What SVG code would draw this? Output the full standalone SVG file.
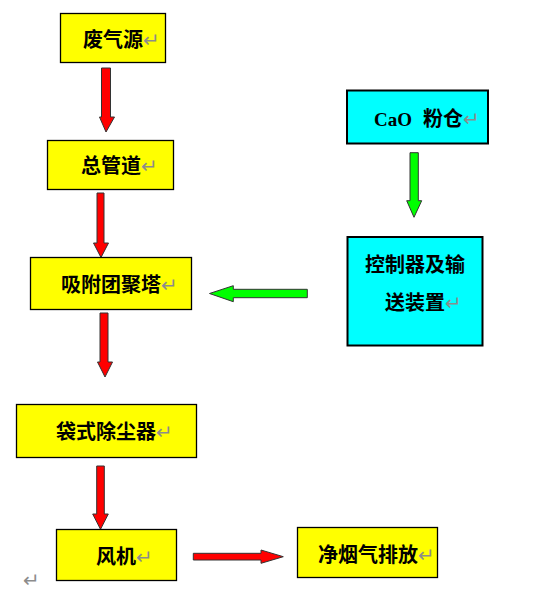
<svg xmlns="http://www.w3.org/2000/svg" width="542" height="594" viewBox="0 0 542 594">
<style>
.y{fill:#ffff00;stroke:#000;stroke-width:1.3}
.c{fill:#00ffff;stroke:#000;stroke-width:2}
.t{font-family:"Noto Sans CJK SC","Liberation Serif",sans-serif;font-size:20px;font-weight:bold;fill:#000}
.r{fill:#ff0000;stroke:#333;stroke-width:1}
.g{fill:#00ff00;stroke:#333;stroke-width:1}
.p{font-family:"DejaVu Sans",sans-serif;font-size:20px;fill:#8c8c8c;font-weight:normal}
</style>
<rect width="542" height="594" fill="#fff"/>
<g id="connectors">
<polygon class="r" points="101.5,68 110.5,68 110.5,117 114.5,117 106,132 99.5,117 101.5,117"/>
<polygon class="r" points="97,193 104,193 104,243 108.5,243 101,257.5 93.5,243 97,243"/>
<polygon class="r" points="100,313 108,313 108,362 112.5,362 105,377 97.5,362 100,362"/>
<polygon class="r" points="96.7,466 104.3,466 104.3,514 108.3,514 100.5,529.3 92.7,514 96.7,514"/>
<polygon class="r" points="193.3,553.3 261,553.3 261,550 283.3,556.7 261,563.3 261,560 193.3,560"/>
<polygon class="g" points="410,152.7 418.3,152.7 418.3,200.7 421.7,200.7 414,217.3 406.7,200.7 410,200.7"/>
<polygon class="g" points="307.3,289.3 307.3,297.7 233.3,297.7 233.3,301.7 209.5,293.5 233.3,285.7 233.3,289.3"/>
</g>
<g id="n1"><rect class="y" x="60.5" y="13.5" width="105" height="49"/><text class="t" x="83" y="47">废气源<tspan class="p">↵</tspan></text></g>
<g id="n2"><rect class="y" x="47.5" y="140.5" width="126" height="49"/><text class="t" x="81" y="173">总管道<tspan class="p">↵</tspan></text></g>
<g id="n3"><rect class="y" x="30.5" y="257.5" width="161" height="52"/><text class="t" x="61" y="292">吸附团聚塔<tspan class="p">↵</tspan></text></g>
<g id="n4"><rect class="y" x="16.5" y="404.5" width="180" height="53"/><text class="t" x="56" y="439">袋式除尘器<tspan class="p">↵</tspan></text></g>
<g id="n5"><rect class="y" x="56.5" y="529.5" width="120" height="51"/><text class="t" x="96" y="564">风机<tspan class="p">↵</tspan></text></g>
<g id="n6"><rect class="y" x="297.5" y="527.5" width="140" height="50"/><text class="t" x="318" y="562">净烟气排放<tspan class="p">↵</tspan></text></g>
<g id="n7"><rect class="c" x="347" y="90.5" width="141" height="53"/><text class="t" x="374" y="126"><tspan font-family="Liberation Serif" font-size="19">CaO</tspan><tspan x="423">粉仓</tspan><tspan class="p">↵</tspan></text></g>
<g id="n8"><rect class="c" x="347.5" y="237" width="135" height="108.5"/><text class="t" x="365" y="272">控制器及输</text><text class="t" x="385" y="310">送装置<tspan class="p">↵</tspan></text></g>
<text class="p" x="23" y="587" font-size="20">↵</text>
</svg>
